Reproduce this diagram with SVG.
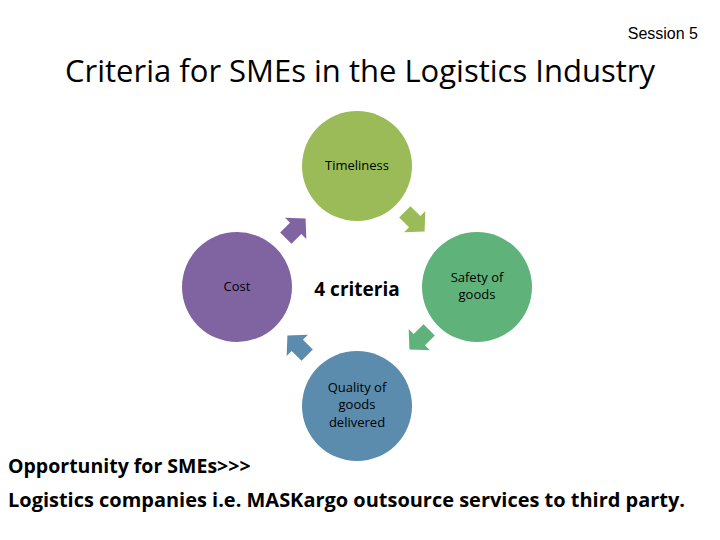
<svg xmlns="http://www.w3.org/2000/svg" width="720" height="540" viewBox="0 0 720 540">
<style>
.c{font-family:"Open Sans","DejaVu Sans",sans-serif;font-size:13px;fill:#000;text-anchor:middle}
.b{font-family:"Open Sans","DejaVu Sans",sans-serif;font-weight:bold;fill:#000}
</style>
<defs><path id="ar" d="M-13,-8 H1 V-15 L15,0 L1,15 V8 H-13 Z"/></defs>
<rect width="720" height="540" fill="#fff"/>
<text x="698" y="39" font-family="Liberation Sans,Arial,sans-serif" font-size="16" text-anchor="end">Session 5</text>
<text x="360" y="82" font-family="Open Sans,DejaVu Sans,sans-serif" font-size="31" text-anchor="middle" fill="#000">Criteria for SMEs in the Logistics Industry</text>
<g id="timeliness"><circle cx="357" cy="166" r="55" fill="#9bbb59"/><text class="c" x="357" y="170">Timeliness</text></g>
<g id="cost"><circle cx="237" cy="287" r="55" fill="#8064a2"/><text class="c" x="237" y="291">Cost</text></g>
<g id="safety"><circle cx="477" cy="287" r="55" fill="#5fb37a"/><text class="c" x="477" y="282">Safety of</text><text class="c" x="477" y="299">goods</text></g>
<g id="quality"><circle cx="357" cy="406" r="55" fill="#5b8bad"/><text class="c" x="357" y="392">Quality of</text><text class="c" x="357" y="409">goods</text><text class="c" x="357" y="427">delivered</text></g>
<g id="center"><text class="b" x="357" y="296" font-size="19" text-anchor="middle">4 criteria</text></g>
<g id="connectors">
<use href="#ar" transform="translate(414,221) rotate(45)" fill="#9bbb59"/>
<use href="#ar" transform="translate(420,339) rotate(135)" fill="#5fb37a"/>
<use href="#ar" transform="translate(298,346) rotate(225)" fill="#5b8bad"/>
<use href="#ar" transform="translate(295,229) rotate(-45)" fill="#8064a2"/>
</g>
<text class="b" x="8" y="473" font-size="19.5">Opportunity for SMEs&gt;&gt;&gt;</text>
<text class="b" x="8" y="507" font-size="19.5" textLength="677" lengthAdjust="spacingAndGlyphs">Logistics companies i.e. MASKargo outsource services to third party.</text>
</svg>
